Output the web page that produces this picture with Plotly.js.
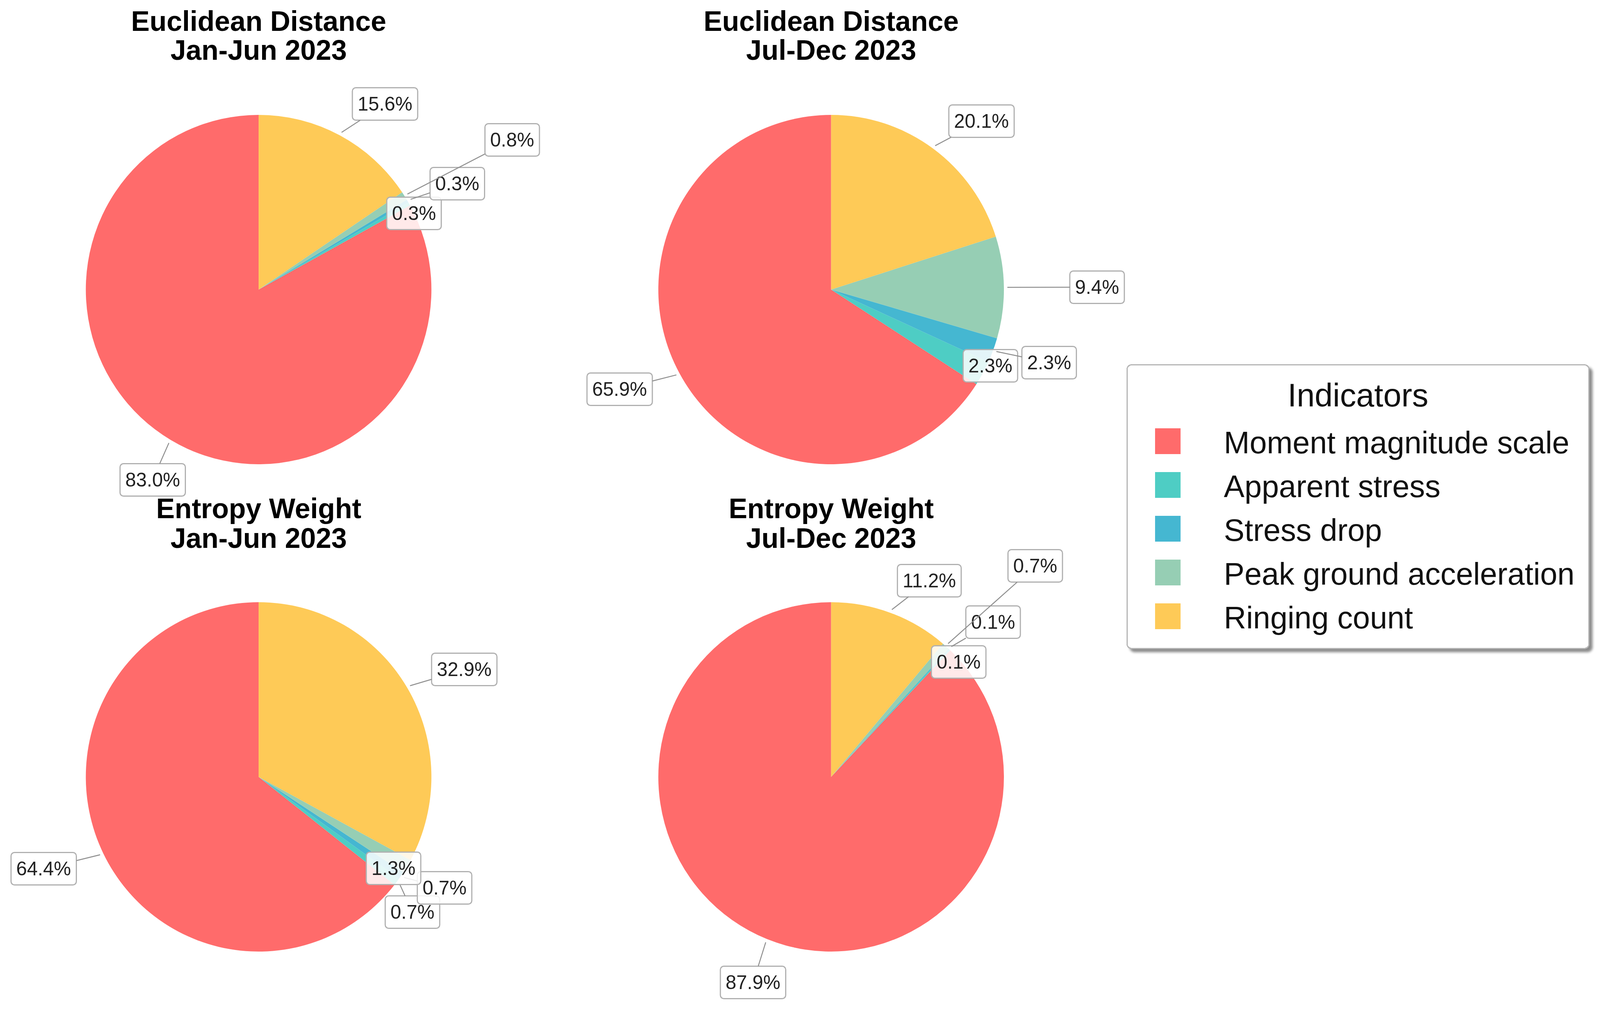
<!DOCTYPE html>
<html><head><meta charset="utf-8">
<script src="https://cdn.plot.ly/plotly-3.0.1.min.js"></script>
<style>html,body{margin:0;padding:0;background:#fff;overflow:hidden;} #chart{width:4139px;height:2582px;transform-origin:0 0;}</style>
</head><body><div id="chart"></div>
<script>
// ---- data ----
const indicators = ['Moment magnitude scale','Apparent stress','Stress drop','Peak ground acceleration','Ringing count'];
const colors = ['#FF6B6B','#4ECDC4','#45B7D1','#96CEB4','#FECA57'];
const methods = ['Euclidean Distance','Euclidean Distance','Entropy Weight','Entropy Weight'];
const periods = ['Jan-Jun 2023','Jul-Dec 2023','Jan-Jun 2023','Jul-Dec 2023'];
const edJanJun = [83.0, 0.3, 0.3, 0.8, 15.6];
const edJulDec = [65.9, 2.3, 2.3, 9.4, 20.1];
const ewJanJun = [64.4, 0.7, 0.7, 1.3, 32.9];
const ewJulDec = [87.9, 0.1, 0.1, 0.7, 11.2];
const series = [edJanJun, edJulDec, ewJanJun, ewJulDec];

// ---- layout / style ----
const W = 4139, H = 2582;
const cxs = [669, 2150, 669, 2150];
const cys = [741, 741, 1988, 1988];
const R = 447;
// label placement: radial distance (in radii) and angular nudge (deg) from slice mid-angle
const labelDist = [[1.25,1.00,1.30,1.70,1.29],[1.35,1.02,1.33,1.54,1.30],[1.35,1.18,1.25,0.94,1.34],[1.26,0.99,1.29,1.69,1.26]];
const labelShift = [[1.2,-3.5,-2.6,-2.1,-6.5],[-3.6,3.3,2.0,-0.2,-5.9],[-3.0,-4.1,3.8,-3.0,-3.5],[0.8,-4.9,-3.6,-2.8,-6.7]];
const titleY = [[54,128],[54,128],[1301,1377],[1301,1377]];
const FONT = 'Liberation Sans, Arial, sans-serif';

// fit the whole figure into the visible window
const chartDiv = document.getElementById('chart');
const sx = (window.innerWidth || W) / W, sy = (window.innerHeight || H) / H;
if (Math.abs(sx - 1) > 0.001 || Math.abs(sy - 1) > 0.001) {
  chartDiv.style.transform = 'scale(' + sx + ',' + sy + ')';
}

const traces = [];
const annotations = [];
series.forEach((vals, k) => {
  const cx = cxs[k], cy = cys[k];
  const total = vals.reduce((a, b) => a + b, 0);
  traces.push({
    type: 'pie', labels: indicators, values: vals, sort: false,
    // first slice starts at 12 o'clock and runs counterclockwise
    direction: 'counterclockwise', rotation: -vals[0] / total * 360,
    marker: {colors: colors, line: {width: 0}},
    textinfo: 'none', hoverinfo: 'label+percent',
    domain: {x: [(cx - R) / W, (cx + R) / W], y: [1 - (cy + R) / H, 1 - (cy - R) / H]},
    showlegend: true
  });
  // titles
  [methods[k], periods[k]].forEach((t, li) => {
    annotations.push({xref:'paper', yref:'paper', x: cx / W, y: 1 - titleY[k][li] / H,
      xanchor:'center', yanchor:'middle', showarrow:false,
      text: '<b>' + t + '</b>', font:{family: FONT, size: 72, color:'#000'}});
  });
  // slice labels (angles counterclockwise from 3 o'clock, first slice starting at 12 o'clock)
  let start = 90;
  vals.forEach((v, i) => {
    const share = v / total * 360;
    const mid = start + share / 2;
    start += share;
    const tipA = mid * Math.PI / 180;
    const labA = (mid + labelShift[k][i]) * Math.PI / 180;
    const d = labelDist[k][i];
    const tx = cx + 1.02 * R * Math.cos(tipA), ty = cy - 1.02 * R * Math.sin(tipA);
    const lx = cx + d * R * Math.cos(labA), ly = cy - d * R * Math.sin(labA);
    const base = {xref:'paper', yref:'paper', text: v.toFixed(1) + '%',
      font:{family: FONT, size: 50, color:'#222'},
      bgcolor:'rgba(255,255,255,0.85)', bordercolor:'#b0b0b0', borderwidth:3, borderpad:12};
    if (d > 1.1) {
      annotations.push(Object.assign(base, {x: tx / W, y: 1 - ty / H, ax: lx - tx, ay: ly - ty,
        axref:'pixel', ayref:'pixel', showarrow:true, arrowhead:0, arrowwidth:2.5,
        arrowcolor:'#8f8f8f', standoff:0}));
    } else {
      annotations.push(Object.assign(base, {x: lx / W, y: 1 - ly / H, xanchor:'center', yanchor:'middle', showarrow:false}));
    }
  });
});

const layout = {
  width: W, height: H, margin: {l:0, r:0, t:0, b:0},
  paper_bgcolor:'#fff', plot_bgcolor:'#fff',
  font: {family: FONT},
  annotations: annotations,
  legend: {x: 2914 / W, y: 1 - 932 / H, xanchor:'left', yanchor:'top',
    bgcolor:'#fff', bordercolor:'#b5b5b5', borderwidth:3,
    font:{family: FONT, size: 80, color:'#111'},
    title:{text:'Indicators', side:'top center', font:{family: FONT, size: 84, color:'#111'}},
    itemwidth: 239, traceorder:'normal'}
};

Plotly.newPlot(chartDiv, traces, layout, {staticPlot: true}).then(gd => {
  gd.querySelectorAll('.legend path.legendpie').forEach(p => {
    p.setAttribute('transform', 'translate(104,0) scale(5.5)');
  });
  // spread legend rows a little more, as in the reference
  const sb = gd.querySelector('.legend .scrollbox');
  if (sb) sb.removeAttribute('clip-path');
  const items = gd.querySelectorAll('.legend .traces');
  items.forEach((g, i) => {
    const m = /translate\(\s*([-\d.]+)[ ,]+([-\d.]+)\s*\)/.exec(g.getAttribute('transform') || '');
    const x = m ? parseFloat(m[1]) : 0;
    g.setAttribute('transform', 'translate(' + x + ',' + (197 + 112 * i) + ')');
  });
  const ttl = gd.querySelector('.legend .legendtitletext');
  if (ttl) ttl.setAttribute('transform', 'translate(15,-4)');
  const lbg = gd.querySelector('.legend rect.bg');
  if (lbg) {
    const w0 = parseFloat(lbg.getAttribute('width')) || 1165;
    lbg.setAttribute('width', w0 + 30);
    lbg.setAttribute('height', 726);
    lbg.setAttribute('rx', 12); lbg.setAttribute('ry', 12);
    lbg.style.filter = 'drop-shadow(8px 8px 3px rgba(0,0,0,0.45))';
  }
  gd.querySelectorAll('.annotation rect.bg').forEach(r => {
    r.setAttribute('rx', 9); r.setAttribute('ry', 9);
  });
});
</script></body></html>
